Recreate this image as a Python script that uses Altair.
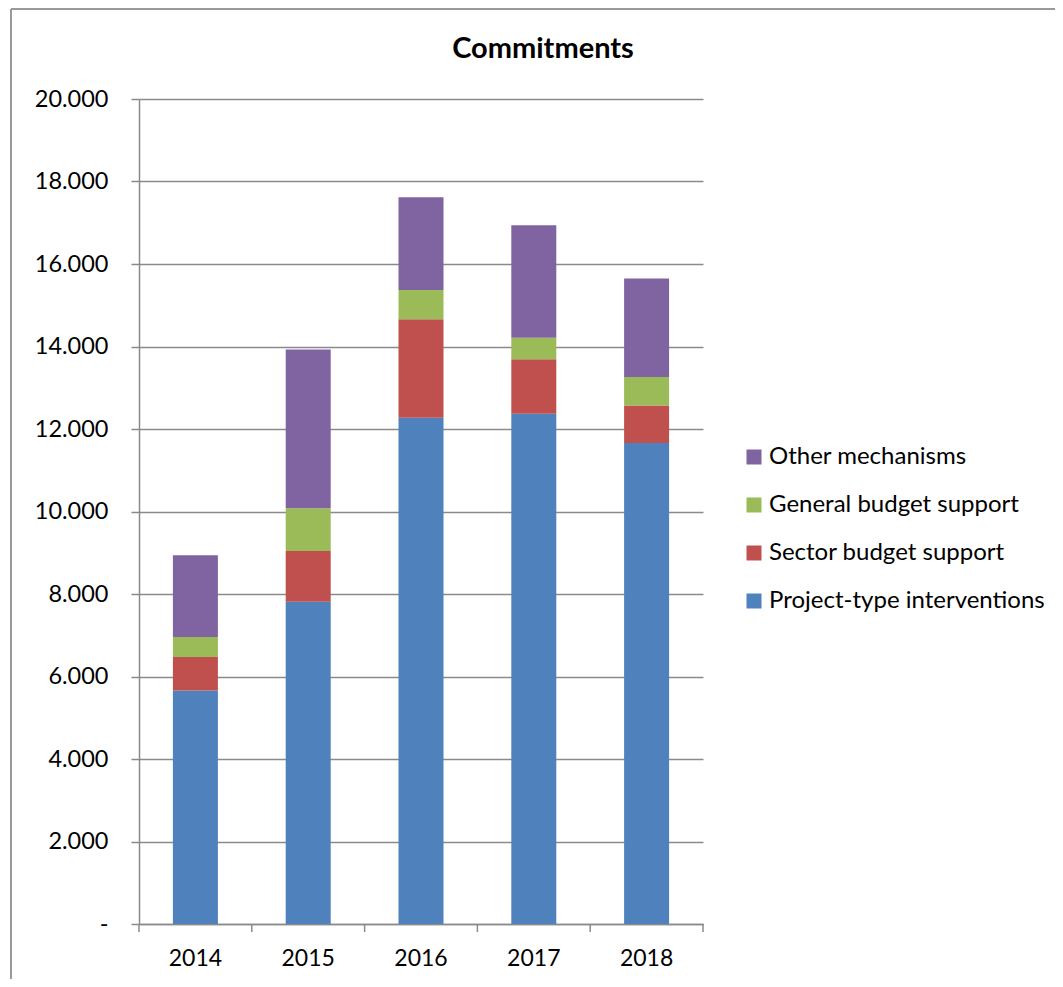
import altair as alt
import pandas as pd

years = ["2014", "2015", "2016", "2017", "2018"]
project = [5660, 7810, 12270, 12370, 11660]
sector = [810, 1230, 2390, 1320, 910]
general = [490, 1040, 710, 520, 690]
other = [1980, 3850, 2250, 2730, 2390]

series_names = ["Project-type interventions", "Sector budget support",
                "General budget support", "Other mechanisms"]
series_values = [project, sector, general, other]
legend_order = ["Other mechanisms", "General budget support",
                "Sector budget support", "Project-type interventions"]
colors = ["#8064A2", "#9BBB59", "#C0504D", "#4F81BD"]
title_text = "Commitments"

rows = []
for si, (name, vals) in enumerate(zip(series_names, series_values)):
    for y, v in zip(years, vals):
        rows.append({"year": y, "series": name, "value": v, "order": si})
df = pd.DataFrame(rows)

FONT = "Lato"
W, H = 564, 825
GRID = "#8a8a8a"

xscale = alt.Scale(domain=years, paddingInner=0, paddingOuter=0)

bars = alt.Chart(df).mark_bar(size=45).encode(
    x=alt.X("year:N", scale=xscale, sort=years,
            axis=alt.Axis(title=None, labelAngle=0, ticks=False, domain=True,
                          domainColor=GRID, domainWidth=1.5, labelFont=FONT, labelFontSize=23,
                          labelColor="#000000", labelPadding=23, labelBaseline="top")),
    y=alt.Y("value:Q", stack="zero",
            scale=alt.Scale(domain=[0, 20000], nice=False),
            axis=alt.Axis(title=None, values=list(range(0, 20001, 2000)),
                          labelExpr="datum.value == 0 ? '-' : replace(format(datum.value, ',.0f'), ',', '.')",
                          grid=True, gridColor=GRID, gridWidth=1.5,
                          ticks=True, tickSize=8, tickColor=GRID, tickWidth=1.5,
                          domain=True, domainColor=GRID, domainWidth=1.5,
                          labelFont=FONT, labelFontSize=23.5, labelColor="#000000",
                          labelPadding=23)),
    color=alt.Color("series:N", scale=alt.Scale(domain=legend_order, range=colors),
                    legend=alt.Legend(title=None, orient="none", legendX=603, legendY=346,
                                      symbolType="square", symbolSize=225,
                                      symbolStrokeWidth=0, labelFont=FONT,
                                      labelFontSize=24, labelColor="#000000",
                                      labelLimit=0, labelOffset=3, rowPadding=24)),
    order=alt.Order("order:Q", sort="ascending"),
)

tick_df = pd.DataFrame({"year": years})
xticks = alt.Chart(tick_df).mark_rule(color=GRID, strokeWidth=1.5).encode(
    x=alt.X("year:N", scale=xscale, sort=years, bandPosition=0),
    y=alt.value(H), y2=alt.value(H + 8),
)
xtick_end = alt.Chart(tick_df).transform_filter(
    alt.datum.year == years[-1]
).mark_rule(color=GRID, strokeWidth=1.5).encode(
    x=alt.X("year:N", scale=xscale, sort=years, bandPosition=1),
    y=alt.value(H), y2=alt.value(H + 8),
)

border_left = alt.Chart(tick_df).mark_rule(color="#999999", strokeWidth=2).encode(
    x=alt.value(-128), y=alt.value(-90), y2=alt.value(H + 60),
)
border_top = alt.Chart(tick_df).mark_rule(color="#999999", strokeWidth=2).encode(
    x=alt.value(-128), x2=alt.value(W + 400), y=alt.value(-90),
)

title_df = pd.DataFrame({"t": [title_text]})
title = alt.Chart(title_df).mark_text(
    font=FONT, fontSize=29, fontWeight="bold", color="#000000",
    align="center", baseline="middle",
).encode(text="t:N", x=alt.value(404), y=alt.value(-50))

chart = alt.layer(bars, xticks, xtick_end, border_left, border_top, title).properties(
    width=W, height=H,
    autosize=alt.AutoSizeParams(type="none"),
    padding={"left": 131, "top": 91, "right": 352, "bottom": 55},
).configure_view(stroke=None)

chart.save("out.html", embed_options={"renderer": "svg", "actions": False})
